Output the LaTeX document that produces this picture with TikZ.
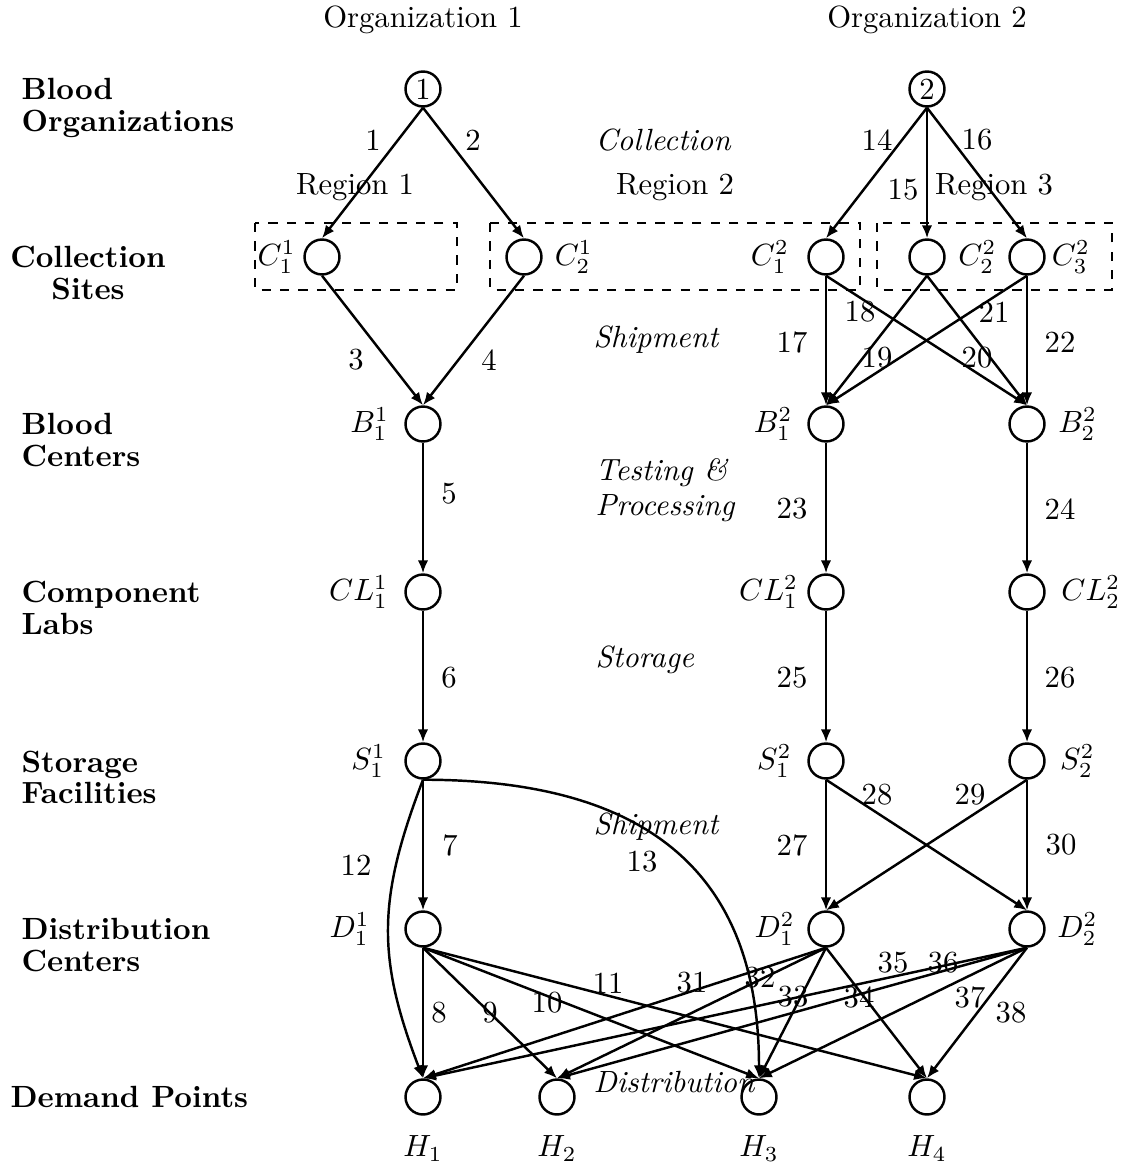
\documentclass[tikz,border=0pt]{standalone}
\usetikzlibrary{arrows.meta}
\begin{document}
\begin{tikzpicture}[>={Latex[length=4.2pt,width=3.4pt]},x=0.326pt,y=-0.326pt,
	nd/.style={circle,draw,thick,minimum size=11.4pt,inner sep=0pt},
	flow/.style={->,thick},
	region/.style={draw,thick,dashed},
	stage/.style={font=\bfseries\fontsize{10}{10.3}\selectfont,align=left,anchor=north west,inner sep=0pt},
	phase/.style={font=\itshape\fontsize{10}{11.5}\selectfont,align=left,anchor=west,inner sep=0pt},
	every label/.style={label distance=1pt}]
		\useasboundingbox (0,0) rectangle (1124,1164);
		% levels
		\node[stage] (lorg) at (21,78) {Blood\\Organizations};
		\node[stage,anchor=north,align=center] (lcol) at (88,246) {Collection\\Sites};
		\node[stage] (lbc) at (21,413) {Blood\\Centers};
		\node[stage] (lcl) at (21,581) {Component\\Labs};
		\node[stage] (lsf) at (21,750) {Storage\\Facilities};
		\node[stage] (ldc) at (21,918) {Distribution\\Centers};
		\node[stage] (ldp) at (10,1086) {Demand Points};
		% activities
		\node[phase] (pcol) at (595,140) {Collection};
		\node[phase] (pship) at (593,340) {Shipment};
		\node[phase] (ptest) at (595,490) {Testing \&\\Processing};
		\node[phase] (pstor) at (595,660) {Storage};
		\node[phase] (pship2) at (593,827) {Shipment};
		\node[phase] (pdist) at (593,1082) {Distribution};
		% organizations and regions
		\node (org1) at (423,20) {Organization 1};
		\node (org2) at (927,20) {Organization 2};
		\node (reg1) at (355,187) {Region 1};
		\node (reg2) at (675,187) {Region 2};
		\node (reg3) at (994,187) {Region 3};
		\draw[region] (255,223) rectangle (457,290);
		\draw[region] (490,223) rectangle (860,290);
		\draw[region] (877,223) rectangle (1112,290);
		% nodes
		\node[nd] (o1) at (423,89) {1};
		\node[nd] (o2) at (927,89) {2};
		\node[nd,label={[label distance=-1pt]left:$C^1_1$}] (c11) at (322,257) {};
		\node[nd,label={[label distance=0.4pt]right:$C^1_2$}] (c21) at (524,257) {};
		\node[nd,label={[label distance=2.5pt]left:$C^2_1$}] (c12) at (826,257) {};
		\node[nd,label={[label distance=0.6pt]right:$C^2_2$}] (c22) at (927,257) {};
		\node[nd,label={[label distance=-1.5pt]right:$C^2_3$}] (c32) at (1027,257) {};
		\node[nd,label={[label distance=1.5pt]left:$B^1_1$}] (b11) at (423,424) {};
		\node[nd,label={[label distance=1.3pt]left:$B^2_1$}] (b12) at (826,424) {};
		\node[nd,label={[label distance=0.6pt]right:$B^2_2$}] (b22) at (1027,424) {};
		\node[nd,label={[label distance=1.8pt]left:$CL^1_1$}] (cl11) at (423,592) {};
		\node[nd,label={[label distance=-0.5pt]left:$CL^2_1$}] (cl12) at (826,592) {};
		\node[nd,label={[label distance=1.6pt]right:$CL^2_2$}] (cl22) at (1027,592) {};
		\node[nd,label={[label distance=2.5pt]left:$S^1_1$}] (s11) at (423,761) {};
		\node[nd,label={[label distance=1.6pt]left:$S^2_1$}] (s12) at (826,761) {};
		\node[nd,label={[label distance=1.2pt]right:$S^2_2$}] (s22) at (1027,761) {};
		\node[nd,label={[label distance=7.8pt]left:$D^1_1$}] (d11) at (423,929) {};
		\node[nd,label={[label distance=0.6pt]left:$D^2_1$}] (d12) at (826,929) {};
		\node[nd,label={[label distance=0.3pt]right:$D^2_2$}] (d22) at (1027,929) {};
		\node[nd,label={[label distance=3pt]below:$H_1$}] (h1) at (423,1097) {};
		\node[nd,label={[label distance=3pt]below:$H_2$}] (h2) at (557,1097) {};
		\node[nd,label={[label distance=3pt]below:$H_3$}] (h3) at (759,1097) {};
		\node[nd,label={[label distance=3pt]below:$H_4$}] (h4) at (927,1097) {};
		% links of organization 1
		\draw[flow] (o1.south) -- (c11.north);
		\draw[flow] (o1.south) -- (c21.north);
		\draw[flow] (c11.south) -- (b11.north);
		\draw[flow] (c21.south) -- (b11.north);
		\draw[flow] (b11.south) -- (cl11.north);
		\draw[flow] (cl11.south) -- (s11.north);
		\draw[flow] (s11.south) -- (d11.north);
		\draw[flow] (s11.south) .. controls +(-46,120) and +(-46,-120) .. (h1.north);
		\draw[flow] (s11.south) .. controls +(225,0) and +(0,-205) .. (h3.north);
		\draw[flow] (d11.south) -- (h1.north);
		\draw[flow] (d11.south) -- (h2.north);
		\draw[flow] (d11.south) -- (h3.north);
		\draw[flow] (d11.south) -- (h4.north);
		% links of organization 2
		\draw[flow] (o2.south) -- (c12.north);
		\draw[flow] (o2.south) -- (c22.north);
		\draw[flow] (o2.south) -- (c32.north);
		\draw[flow] (c12.south) -- (b12.north);
		\draw[flow] (c12.south) -- (b22.north);
		\draw[flow] (c22.south) -- (b12.north);
		\draw[flow] (c22.south) -- (b22.north);
		\draw[flow] (c32.south) -- (b12.north);
		\draw[flow] (c32.south) -- (b22.north);
		\draw[flow] (b12.south) -- (cl12.north);
		\draw[flow] (b22.south) -- (cl22.north);
		\draw[flow] (cl12.south) -- (s12.north);
		\draw[flow] (cl22.south) -- (s22.north);
		\draw[flow] (s12.south) -- (d12.north);
		\draw[flow] (s12.south) -- (d22.north);
		\draw[flow] (s22.south) -- (d12.north);
		\draw[flow] (s22.south) -- (d22.north);
		\draw[flow] (d12.south) -- (h1.north);
		\draw[flow] (d12.south) -- (h2.north);
		\draw[flow] (d12.south) -- (h3.north);
		\draw[flow] (d12.south) -- (h4.north);
		\draw[flow] (d22.south) -- (h1.north);
		\draw[flow] (d22.south) -- (h2.north);
		\draw[flow] (d22.south) -- (h3.north);
		\draw[flow] (d22.south) -- (h4.north);
		% link numbers
		\node (e1) at (373,140) {1};   \node (e2) at (473,140) {2};
		\node (e3) at (356,360) {3};   \node (e4) at (489,360) {4};
		\node (e5) at (449,494) {5};   \node (e6) at (449,678) {6};
		\node (e7) at (450,845) {7};   \node (e8) at (439,1013) {8};
		\node (e9) at (490,1013) {9};  \node (e10) at (547,1003) {10};
		\node (e11) at (608,983) {11}; \node (e12) at (356,865) {12};
		\node (e13) at (642,862) {13}; \node (e14) at (877,140) {14};
		\node (e15) at (903,190) {15}; \node (e16) at (977,140) {16};
		\node (e17) at (792,342) {17}; \node (e18) at (860,312) {18};
		\node (e19) at (877,358) {19}; \node (e20) at (977,358) {20};
		\node (e21) at (994,312) {21}; \node (e22) at (1060,342) {22};
		\node (e23) at (792,509) {23}; \node (e24) at (1060,509) {24};
		\node (e25) at (792,678) {25}; \node (e26) at (1060,678) {26};
		\node (e27) at (792,845) {27}; \node (e28) at (877,795) {28};
		\node (e29) at (970,795) {29}; \node (e30) at (1061,845) {30};
		\node (e31) at (692,983) {31}; \node (e32) at (760,978) {32};
		\node (e33) at (793,997) {33}; \node (e34) at (859,997) {34};
		\node (e35) at (893,963) {35}; \node (e36) at (943,963) {36};
		\node (e37) at (970,997) {37}; \node (e38) at (1011,1013) {38};
		\end{tikzpicture}
\end{document}
